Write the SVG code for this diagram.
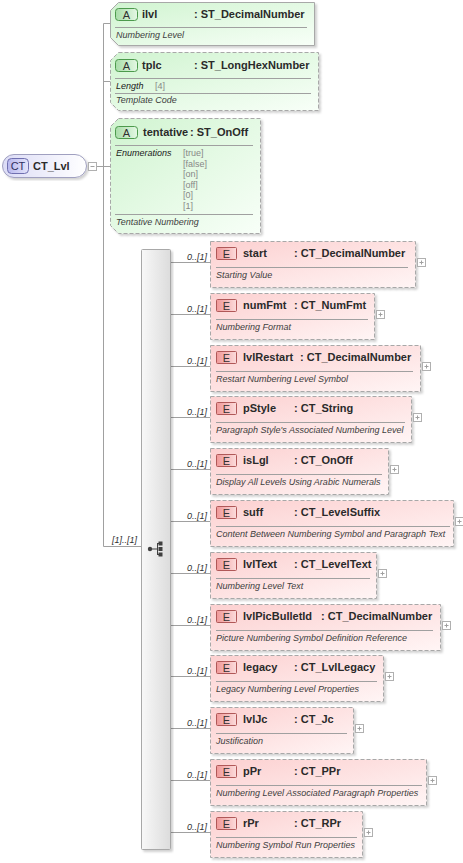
<svg xmlns="http://www.w3.org/2000/svg" width="463" height="863" viewBox="0 0 463 863">
<defs>
<linearGradient id="gE" x1="0" y1="0" x2="1" y2="1"><stop offset="0" stop-color="#fcd0d0"/><stop offset="1" stop-color="#fff5f5"/></linearGradient>
<linearGradient id="gEb" x1="0" y1="0" x2="1" y2="0"><stop offset="0" stop-color="#f09898"/><stop offset="1" stop-color="#fcdcdc"/></linearGradient>
<linearGradient id="gA" x1="0" y1="0" x2="1" y2="1"><stop offset="0" stop-color="#d0f4d0"/><stop offset="1" stop-color="#f8fff8"/></linearGradient>
<linearGradient id="gAb" x1="0" y1="0" x2="1" y2="0"><stop offset="0" stop-color="#a8dca8"/><stop offset="1" stop-color="#e4f8e4"/></linearGradient>
<linearGradient id="gCT" x1="0" y1="0" x2="1" y2="0"><stop offset="0" stop-color="#dcdcf6"/><stop offset="1" stop-color="#ffffff"/></linearGradient>
<linearGradient id="gCTb" x1="0" y1="0" x2="1" y2="0"><stop offset="0" stop-color="#b8b8ee"/><stop offset="1" stop-color="#e4e4fa"/></linearGradient>
<linearGradient id="gS" x1="0" y1="0" x2="1" y2="0"><stop offset="0" stop-color="#f8f8f8"/><stop offset="1" stop-color="#dcdcdc"/></linearGradient>
<filter id="sh" x="-5%" y="-5%" width="115%" height="120%"><feDropShadow dx="2" dy="2" stdDeviation="1.2" flood-color="#000" flood-opacity="0.18"/></filter>
</defs>
<style>
text{font-family:"Liberation Sans",Arial,sans-serif;fill:#2a2a2a}
.nm{font-size:11px;font-weight:bold}
.bt{font-size:11px;text-anchor:middle;fill:#303030}
.ds{font-size:9px;font-style:italic;fill:#404040}
.gv{font-size:9px;fill:#888}
.ml{font-size:9px;font-style:italic;fill:#303030;text-anchor:end}
.eb{fill:url(#gE);stroke:#a8a8a8;stroke-dasharray:4 2;filter:url(#sh)}
.eg{fill:url(#gEb);stroke:#b05858}
.ab{fill:url(#gA);stroke:#a8a8a8;filter:url(#sh)}
.abd{stroke-dasharray:4 2}
.ag{fill:url(#gAb);stroke:#4c9a4c}
.sp{stroke:#a0a0a0;stroke-width:1}
.pb{fill:#fff;stroke:#b0b0b0}
.pl{stroke:#a0a0a0;fill:none}
.cn{stroke:#a0a0a0;stroke-width:1;fill:none}
</style>

<g id="connectors">
<path class="cn" d="M97 166.5 H103.5 M103.5 23.5 V546.5 M103.5 23.5 H110.5 M103.5 81.5 H110.5 M103.5 166.5 H110.5 M103.5 546.5 H141"/>
<text class="ml" x="137" y="543">[1]..[1]</text>
<path class="cn" d="M171 262.5 H210.5 M171 314.5 H210.5 M171 366.5 H210.5 M171 417.5 H210.5 M171 469.5 H210.5 M171 521.5 H210.5 M171 573.5 H210.5 M171 625.5 H210.5 M171 676.5 H210.5 M171 728.5 H210.5 M171 780.5 H210.5 M171 832.5 H210.5"/>
<text class="ml" x="207" y="259.5">0..[1]</text>
<text class="ml" x="207" y="311.5">0..[1]</text>
<text class="ml" x="207" y="363.5">0..[1]</text>
<text class="ml" x="207" y="414.5">0..[1]</text>
<text class="ml" x="207" y="466.5">0..[1]</text>
<text class="ml" x="207" y="518.5">0..[1]</text>
<text class="ml" x="207" y="570.5">0..[1]</text>
<text class="ml" x="207" y="622.5">0..[1]</text>
<text class="ml" x="207" y="673.5">0..[1]</text>
<text class="ml" x="207" y="725.5">0..[1]</text>
<text class="ml" x="207" y="777.5">0..[1]</text>
<text class="ml" x="207" y="829.5">0..[1]</text>
</g>

<g id="CT_Lvl">
<rect x="2.5" y="154.5" width="84" height="23" rx="11.5" fill="url(#gCT)" stroke="#a0a0c0" filter="url(#sh)"/>
<rect x="7.5" y="158.5" width="21" height="15" rx="4" fill="url(#gCTb)" stroke="#7070b0"/>
<text class="bt" x="18" y="170" style="fill:#303060">CT</text>
<text class="nm" x="33" y="170">CT_Lvl</text>
<rect class="pb" x="88.5" y="162.5" width="8" height="8"/>
<path class="pl" d="M90.5 166.5 h4"/>
</g>

<g id="attr_ilvl">
<path class="ab" d="M118.5 2.5 H314.5 V45.5 H118.5 L110.5 37.5 V10.5 Z"/>
<rect class="ag" x="115.5" y="8.5" width="22" height="12" rx="3"/>
<text class="bt" x="126.5" y="18.5">A</text>
<text class="nm" x="142" y="18">ilvl</text>
<text class="nm" x="194" y="18">: ST_DecimalNumber</text>
<line class="sp" x1="115" y1="27.5" x2="307" y2="27.5"/>
<text class="ds" x="116" y="38">Numbering Level</text>
</g>

<g id="attr_tplc">
<path class="ab abd" d="M118.5 52.5 H318.5 V110.5 H118.5 L110.5 102.5 V60.5 Z"/>
<rect class="ag" x="115.5" y="59.5" width="22" height="12" rx="3"/>
<text class="bt" x="126.5" y="69.5">A</text>
<text class="nm" x="142" y="69">tplc</text>
<text class="nm" x="194" y="69">: ST_LongHexNumber</text>
<line class="sp" x1="115" y1="78.5" x2="311" y2="78.5"/>
<text class="ds" x="116" y="89" style="fill:#202020">Length</text>
<text class="gv" x="155" y="89">[4]</text>
<line class="sp" x1="115" y1="93.5" x2="311" y2="93.5"/>
<text class="ds" x="116" y="103">Template Code</text>
</g>

<g id="attr_tentative">
<path class="ab abd" d="M118.5 118.5 H260.5 V233.5 H118.5 L110.5 225.5 V126.5 Z"/>
<rect class="ag" x="115.5" y="126.5" width="22" height="12" rx="3"/>
<text class="bt" x="126.5" y="136.5">A</text>
<text class="nm" x="143" y="136">tentative</text>
<text class="nm" x="190" y="136">: ST_OnOff</text>
<line class="sp" x1="115" y1="145.5" x2="253" y2="145.5"/>
<text class="ds" x="116" y="156" style="fill:#202020">Enumerations</text>
<text class="gv" x="183" y="156">[true]</text>
<text class="gv" x="183" y="166.5">[false]</text>
<text class="gv" x="183" y="177">[on]</text>
<text class="gv" x="183" y="187.5">[off]</text>
<text class="gv" x="183" y="198">[0]</text>
<text class="gv" x="183" y="208.5">[1]</text>
<line class="sp" x1="115" y1="214.5" x2="253" y2="214.5"/>
<text class="ds" x="116" y="225">Tentative Numbering</text>
</g>

<g id="sequence">
<rect x="141.5" y="249.5" width="29" height="600" rx="1" fill="url(#gS)" stroke="#a8a8a8" filter="url(#sh)"/>
<circle cx="150" cy="549" r="2.2" fill="#404040"/>
<path d="M150 549 H157 M157.5 543.5 V554.5 M157 543.5 H159 M157 554.5 H159" stroke="#404040" fill="none"/>
<rect x="158.5" y="541.5" width="4" height="4" fill="#404040"/>
<rect x="158.5" y="547" width="4" height="4" fill="#404040"/>
<rect x="158.5" y="552.5" width="4" height="4" fill="#404040"/>
</g>

<g id="el_start" transform="translate(0,241)">
<rect class="eb" x="210.5" y="0.5" width="205" height="46"/>
<rect class="eg" x="216.5" y="6.5" width="20" height="12" rx="1"/>
<text class="bt" x="226.5" y="16.5">E</text>
<text class="nm" x="243" y="16">start</text>
<text class="nm" x="294" y="16">: CT_DecimalNumber</text>
<line class="sp" x1="216" y1="26.5" x2="408" y2="26.5"/>
<text class="ds" x="216" y="37">Starting Value</text>
<rect class="pb" x="417.5" y="17.5" width="8" height="8"/>
<path class="pl" d="M419.5 21.5 h4 M421.5 19.5 v4"/>
</g>

<g id="el_numFmt" transform="translate(0,293)">
<rect class="eb" x="210.5" y="0.5" width="164" height="46"/>
<rect class="eg" x="216.5" y="6.5" width="20" height="12" rx="1"/>
<text class="bt" x="226.5" y="16.5">E</text>
<text class="nm" x="243" y="16">numFmt</text>
<text class="nm" x="294" y="16">: CT_NumFmt</text>
<line class="sp" x1="216" y1="26.5" x2="368" y2="26.5"/>
<text class="ds" x="216" y="37">Numbering Format</text>
<rect class="pb" x="376.5" y="17.5" width="8" height="8"/>
<path class="pl" d="M378.5 21.5 h4 M380.5 19.5 v4"/>
</g>

<g id="el_lvlRestart" transform="translate(0,345)">
<rect class="eb" x="210.5" y="0.5" width="210" height="46"/>
<rect class="eg" x="216.5" y="6.5" width="20" height="12" rx="1"/>
<text class="bt" x="226.5" y="16.5">E</text>
<text class="nm" x="243" y="16">lvlRestart</text>
<text class="nm" x="300" y="16">: CT_DecimalNumber</text>
<line class="sp" x1="216" y1="26.5" x2="413" y2="26.5"/>
<text class="ds" x="216" y="37">Restart Numbering Level Symbol</text>
<rect class="pb" x="422.5" y="17.5" width="8" height="8"/>
<path class="pl" d="M424.5 21.5 h4 M426.5 19.5 v4"/>
</g>

<g id="el_pStyle" transform="translate(0,396)">
<rect class="eb" x="210.5" y="0.5" width="201" height="46"/>
<rect class="eg" x="216.5" y="6.5" width="20" height="12" rx="1"/>
<text class="bt" x="226.5" y="16.5">E</text>
<text class="nm" x="243" y="16">pStyle</text>
<text class="nm" x="294" y="16">: CT_String</text>
<line class="sp" x1="216" y1="26.5" x2="405" y2="26.5"/>
<text class="ds" x="216" y="37">Paragraph Style's Associated Numbering Level</text>
<rect class="pb" x="413.5" y="17.5" width="8" height="8"/>
<path class="pl" d="M415.5 21.5 h4 M417.5 19.5 v4"/>
</g>

<g id="el_isLgl" transform="translate(0,448)">
<rect class="eb" x="210.5" y="0.5" width="178" height="46"/>
<rect class="eg" x="216.5" y="6.5" width="20" height="12" rx="1"/>
<text class="bt" x="226.5" y="16.5">E</text>
<text class="nm" x="243" y="16">isLgl</text>
<text class="nm" x="294" y="16">: CT_OnOff</text>
<line class="sp" x1="216" y1="26.5" x2="382" y2="26.5"/>
<text class="ds" x="216" y="37">Display All Levels Using Arabic Numerals</text>
<rect class="pb" x="390.5" y="17.5" width="8" height="8"/>
<path class="pl" d="M392.5 21.5 h4 M394.5 19.5 v4"/>
</g>

<g id="el_suff" transform="translate(0,500)">
<rect class="eb" x="210.5" y="0.5" width="243" height="46"/>
<rect class="eg" x="216.5" y="6.5" width="20" height="12" rx="1"/>
<text class="bt" x="226.5" y="16.5">E</text>
<text class="nm" x="243" y="16">suff</text>
<text class="nm" x="294" y="16">: CT_LevelSuffix</text>
<line class="sp" x1="216" y1="26.5" x2="450" y2="26.5"/>
<text class="ds" x="216" y="37">Content Between Numbering Symbol and Paragraph Text</text>
<rect class="pb" x="455.5" y="17.5" width="8" height="8"/>
<path class="pl" d="M457.5 21.5 h4 M459.5 19.5 v4"/>
</g>

<g id="el_lvlText" transform="translate(0,552)">
<rect class="eb" x="210.5" y="0.5" width="166" height="46"/>
<rect class="eg" x="216.5" y="6.5" width="20" height="12" rx="1"/>
<text class="bt" x="226.5" y="16.5">E</text>
<text class="nm" x="243" y="16">lvlText</text>
<text class="nm" x="294" y="16">: CT_LevelText</text>
<line class="sp" x1="216" y1="26.5" x2="370" y2="26.5"/>
<text class="ds" x="216" y="37">Numbering Level Text</text>
<rect class="pb" x="378.5" y="17.5" width="8" height="8"/>
<path class="pl" d="M380.5 21.5 h4 M382.5 19.5 v4"/>
</g>

<g id="el_lvlPicBulletId" transform="translate(0,604)">
<rect class="eb" x="210.5" y="0.5" width="230" height="46"/>
<rect class="eg" x="216.5" y="6.5" width="20" height="12" rx="1"/>
<text class="bt" x="226.5" y="16.5">E</text>
<text class="nm" x="243" y="16">lvlPicBulletId</text>
<text class="nm" x="321" y="16">: CT_DecimalNumber</text>
<line class="sp" x1="216" y1="26.5" x2="433" y2="26.5"/>
<text class="ds" x="216" y="37">Picture Numbering Symbol Definition Reference</text>
<rect class="pb" x="442.5" y="17.5" width="8" height="8"/>
<path class="pl" d="M444.5 21.5 h4 M446.5 19.5 v4"/>
</g>

<g id="el_legacy" transform="translate(0,655)">
<rect class="eb" x="210.5" y="0.5" width="173" height="46"/>
<rect class="eg" x="216.5" y="6.5" width="20" height="12" rx="1"/>
<text class="bt" x="226.5" y="16.5">E</text>
<text class="nm" x="243" y="16">legacy</text>
<text class="nm" x="294" y="16">: CT_LvlLegacy</text>
<line class="sp" x1="216" y1="26.5" x2="377" y2="26.5"/>
<text class="ds" x="216" y="37">Legacy Numbering Level Properties</text>
<rect class="pb" x="385.5" y="17.5" width="8" height="8"/>
<path class="pl" d="M387.5 21.5 h4 M389.5 19.5 v4"/>
</g>

<g id="el_lvlJc" transform="translate(0,707)">
<rect class="eb" x="210.5" y="0.5" width="143" height="46"/>
<rect class="eg" x="216.5" y="6.5" width="20" height="12" rx="1"/>
<text class="bt" x="226.5" y="16.5">E</text>
<text class="nm" x="243" y="16">lvlJc</text>
<text class="nm" x="294" y="16">: CT_Jc</text>
<line class="sp" x1="216" y1="26.5" x2="347" y2="26.5"/>
<text class="ds" x="216" y="37">Justification</text>
<rect class="pb" x="355.5" y="17.5" width="8" height="8"/>
<path class="pl" d="M357.5 21.5 h4 M359.5 19.5 v4"/>
</g>

<g id="el_pPr" transform="translate(0,759)">
<rect class="eb" x="210.5" y="0.5" width="216" height="46"/>
<rect class="eg" x="216.5" y="6.5" width="20" height="12" rx="1"/>
<text class="bt" x="226.5" y="16.5">E</text>
<text class="nm" x="243" y="16">pPr</text>
<text class="nm" x="294" y="16">: CT_PPr</text>
<line class="sp" x1="216" y1="26.5" x2="422" y2="26.5"/>
<text class="ds" x="216" y="37">Numbering Level Associated Paragraph Properties</text>
<rect class="pb" x="428.5" y="17.5" width="8" height="8"/>
<path class="pl" d="M430.5 21.5 h4 M432.5 19.5 v4"/>
</g>

<g id="el_rPr" transform="translate(0,811)">
<rect class="eb" x="210.5" y="0.5" width="152" height="46"/>
<rect class="eg" x="216.5" y="6.5" width="20" height="12" rx="1"/>
<text class="bt" x="226.5" y="16.5">E</text>
<text class="nm" x="243" y="16">rPr</text>
<text class="nm" x="294" y="16">: CT_RPr</text>
<line class="sp" x1="216" y1="26.5" x2="357" y2="26.5"/>
<text class="ds" x="216" y="37">Numbering Symbol Run Properties</text>
<rect class="pb" x="364.5" y="17.5" width="8" height="8"/>
<path class="pl" d="M366.5 21.5 h4 M368.5 19.5 v4"/>
</g>
</svg>
